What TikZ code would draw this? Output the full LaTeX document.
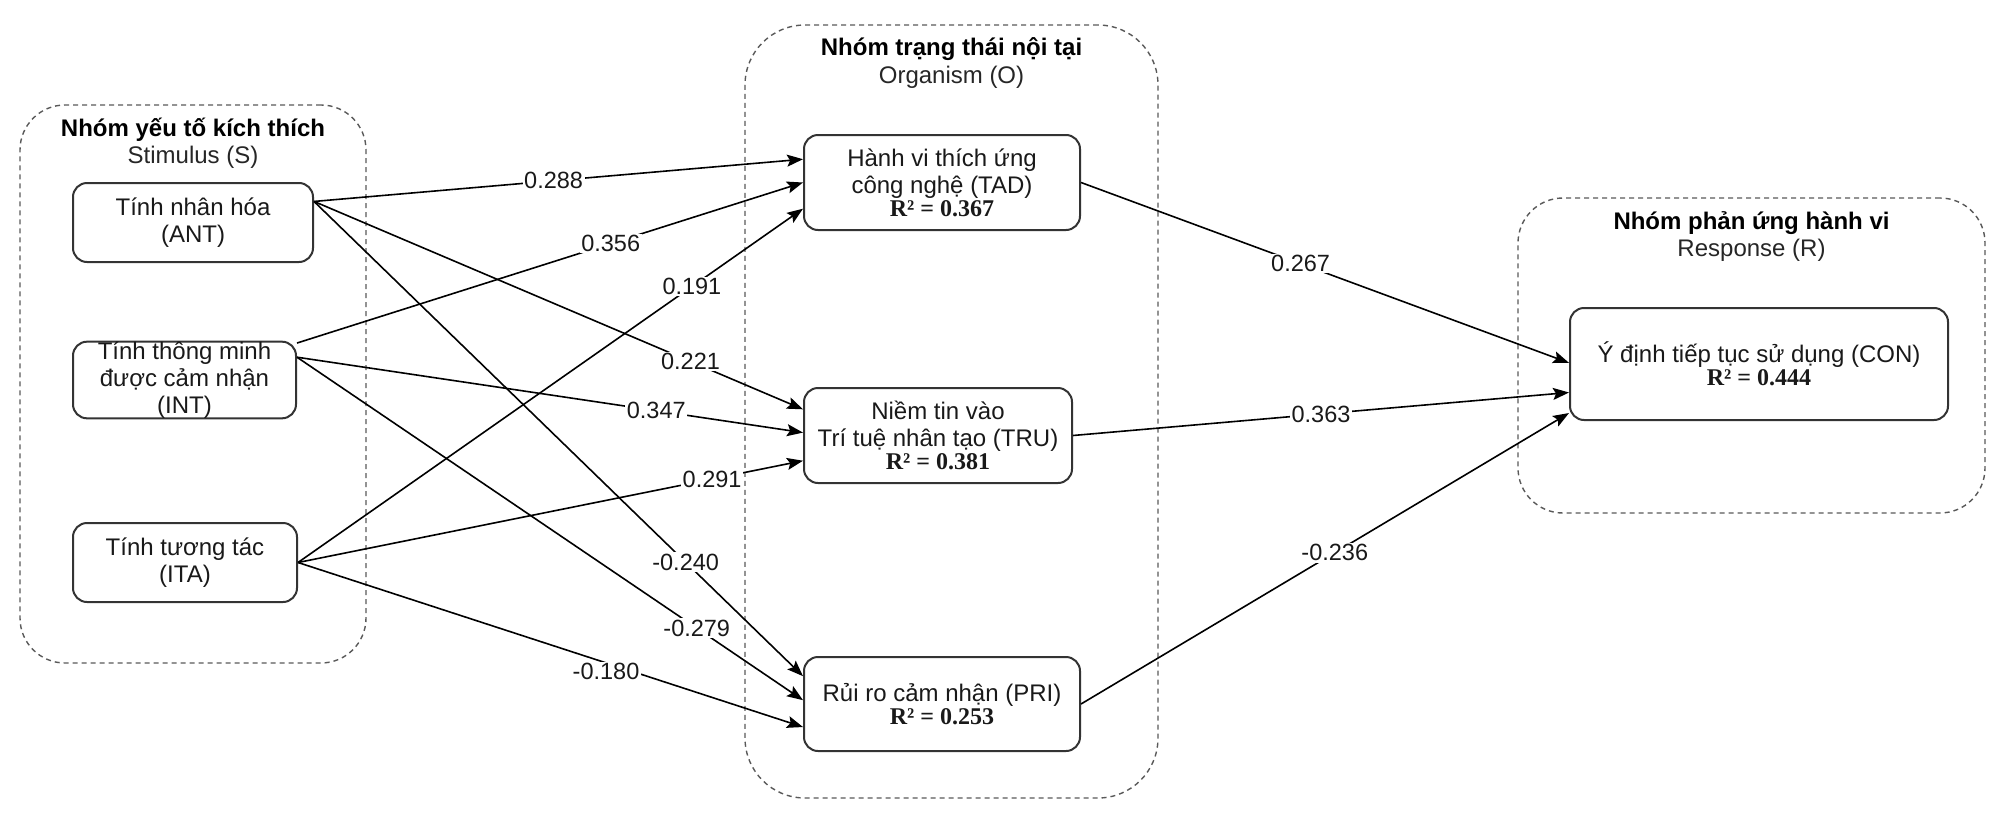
\documentclass[tikz,border=0pt]{standalone}
\usepackage{fontspec}
\setmainfont{Liberation Sans}
\newfontfamily\rfont{Liberation Serif}
\usetikzlibrary{arrows.meta,calc}
\begin{document}
\begin{tikzpicture}[x=1pt,y=-1pt,
  grp/.style={draw=black!65, line width=1.4pt, dash pattern=on 5pt off 4pt, rounded corners=#1, inner sep=0pt},
  box/.style={draw=black!80, line width=2pt, rounded corners=14pt, align=center, inner sep=0pt,
              font=\fontsize{24}{27}\selectfont, text=black!90},
  ttl/.style={anchor=base, font=\fontsize{24}{27}\selectfont\bfseries},
  sub/.style={anchor=base, font=\fontsize{24}{27}\selectfont, text=black!85},
  edge/.style={draw=black, line width=1.6pt, -{Stealth[length=16pt,width=12pt,inset=3pt]}},
  wt/.style={fill=white, inner sep=1.5pt, font=\fontsize{23.5}{27}\selectfont, text=black!90}]
\useasboundingbox (0,0) rectangle (2008,830);

% groups
\node[grp=45pt, minimum width=346, minimum height=558] (sgrp) at (193,384) {};
\node[grp=60pt, minimum width=413, minimum height=773] (ogrp) at (951.5,411.5) {};
\node[grp=45pt, minimum width=467, minimum height=315] (rgrp) at (1751.5,355.5) {};

\node[ttl] (sttl) at (193,136) {Nhóm yếu tố kích thích};
\node[sub] (ssub) at (193,163) {Stimulus (S)};
\node[ttl] (ottl) at (951.5,55) {Nhóm trạng thái nội tại};
\node[sub] (osub) at (951.5,83) {Organism (O)};
\node[ttl] (rttl) at (1751.5,229) {Nhóm phản ứng hành vi};
\node[sub] (rsub) at (1751.5,256) {Response (R)};

% boxes
\node[box, minimum width=240, minimum height=79] (ant) at (193,222.5) {Tính nhân hóa\\(ANT)};
\node[box, minimum width=223, minimum height=76] (int) at (184.5,380) {Tính thông minh\\được cảm nhận\\(INT)};
\node[box, minimum width=224, minimum height=79] (ita) at (185,562.5) {Tính tương tác\\(ITA)};
\node[box, minimum width=276, minimum height=95] (tad) at (942,182.5) {Hành vi thích ứng\\công nghệ (TAD)\\[-4pt]{\rfont\bfseries R² = 0.367}};
\node[box, minimum width=268, minimum height=95] (tru) at (938,435.5) {Niềm tin vào\\Trí tuệ nhân tạo (TRU)\\[-4pt]{\rfont\bfseries R² = 0.381}};
\node[box, minimum width=276, minimum height=94] (pri) at (942,704) {Rủi ro cảm nhận (PRI)\\[-4pt]{\rfont\bfseries R² = 0.253}};
\node[box, minimum width=378, minimum height=112] (con) at (1759,364) {Ý định tiếp tục sử dụng (CON)\\[-4pt]{\rfont\bfseries R² = 0.444}};

% connection points
\coordinate (antO) at ($(ant.north east)!0.24!(ant.south east)$);
\coordinate (intOa) at ($(int.north east)!0.03!(int.south east)$);
\coordinate (intOb) at ($(int.north east)!0.21!(int.south east)$);
\coordinate (itaO) at (ita.east);
\coordinate (tadI1) at ($(tad.north west)!0.26!(tad.south west)$);
\coordinate (tadI2) at ($(tad.north west)!0.50!(tad.south west)$);
\coordinate (tadI3) at ($(tad.north west)!0.77!(tad.south west)$);
\coordinate (truI1) at ($(tru.north west)!0.23!(tru.south west)$);
\coordinate (truI2) at ($(tru.north west)!0.47!(tru.south west)$);
\coordinate (truI3) at ($(tru.north west)!0.76!(tru.south west)$);
\coordinate (priI1) at ($(pri.north west)!0.21!(pri.south west)$);
\coordinate (priI2) at ($(pri.north west)!0.46!(pri.south west)$);
\coordinate (priI3) at ($(pri.north west)!0.74!(pri.south west)$);
\coordinate (conI1) at ($(con.north west)!0.49!(con.south west)$);
\coordinate (conI2) at ($(con.north west)!0.75!(con.south west)$);
\coordinate (conI3) at ($(con.north west)!0.93!(con.south west)$);

% edges
\draw[edge] (antO) -- node[wt,pos=0.49]{0.288} (tadI1);
\draw[edge] (intOa) -- node[wt,pos=0.62]{0.356} (tadI2);
\draw[edge] (itaO) -- node[wt,pos=0.78]{0.191} (tadI3);
\draw[edge] (antO) -- node[wt,pos=0.77]{0.221} (truI1);
\draw[edge] (intOb) -- node[wt,pos=0.71]{0.347} (truI2);
\draw[edge] (itaO) -- node[wt,pos=0.82]{0.291} (truI3);
\draw[edge] (antO) -- node[wt,pos=0.76]{-0.240} (priI1);
\draw[edge] (intOb) -- node[wt,pos=0.79]{-0.279} (priI2);
\draw[edge] (itaO) -- node[wt,pos=0.61,yshift=-9pt]{-0.180} (priI3);
\draw[edge] (tad.east) -- node[wt,pos=0.45]{0.267} (conI1);
\draw[edge] (tru.east) -- node[wt,pos=0.50]{0.363} (conI2);
\draw[edge] (pri.east) -- node[wt,pos=0.52]{-0.236} (conI3);
\end{tikzpicture}
\end{document}
